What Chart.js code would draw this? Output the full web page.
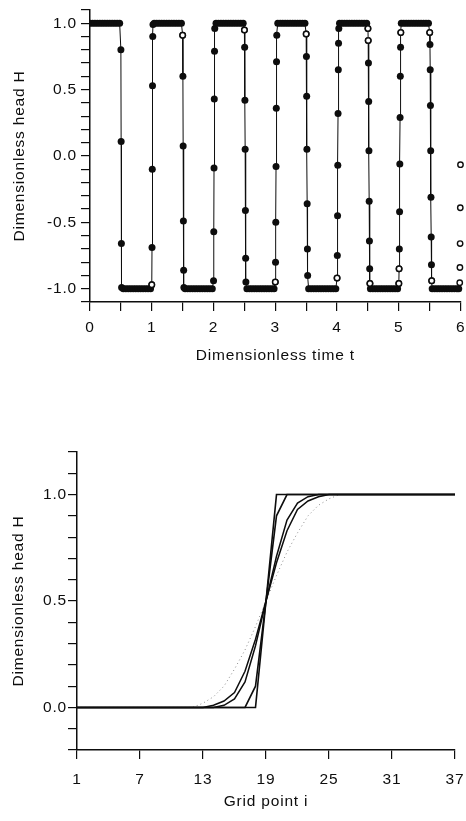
<!DOCTYPE html>
<html>
<head>
<meta charset="utf-8">
<script src="https://cdn.jsdelivr.net/npm/chart.js@4.4.1/dist/chart.umd.min.js"></script>
<style>
  html, body { margin: 0; padding: 0; background: #fff; }
  body { width: 466px; height: 821px; position: relative; overflow: hidden; }
  canvas { position: absolute; left: 0; }
  #wave { top: 0; }
  #front { top: 400px; }
</style>
</head>
<body>
<canvas id="wave" width="466" height="380"></canvas>
<canvas id="front" width="466" height="421"></canvas>
<script>
// ---- top panel: head vs time (filled dots joined by a thin line, open circles apart)
let waveTime = [
  0, 0.04, 0.08, 0.12, 0.16, 0.2, 0.24, 0.28, 0.32, 0.36, 0.4, 0.44, 0.48,
  0.5, 0.504, 0.508, 0.512,
  0.54, 0.58, 0.62, 0.66, 0.7, 0.74, 0.78, 0.82, 0.86, 0.9, 0.94, 0.98,
  1, 1.004, 1.008, 1.012, 1.016, 1.02,
  1.04, 1.08, 1.12, 1.16, 1.2, 1.24, 1.28, 1.32, 1.36, 1.4, 1.44, 1.48,
  1.5, 1.504, 1.508, 1.512, 1.516, 1.52,
  1.54, 1.58, 1.62, 1.66, 1.7, 1.74, 1.78, 1.82, 1.86, 1.9, 1.94, 1.98,
  2, 2.004, 2.008, 2.012, 2.016, 2.02,
  2.04, 2.08, 2.12, 2.16, 2.2, 2.24, 2.28, 2.32, 2.36, 2.4, 2.44, 2.48,
  2.5, 2.504, 2.508, 2.512, 2.516, 2.52, 2.524,
  2.54, 2.58, 2.62, 2.66, 2.7, 2.74, 2.78, 2.82, 2.86, 2.9, 2.94, 2.98,
  3, 3.004, 3.008, 3.012, 3.016, 3.02, 3.024,
  3.04, 3.08, 3.12, 3.16, 3.2, 3.24, 3.28, 3.32, 3.36, 3.4, 3.44, 3.48,
  3.5, 3.504, 3.508, 3.512, 3.516, 3.52, 3.524,
  3.54, 3.58, 3.62, 3.66, 3.7, 3.74, 3.78, 3.82, 3.86, 3.9, 3.94, 3.98,
  4, 4.004, 4.008, 4.012, 4.016, 4.02, 4.024, 4.028,
  4.04, 4.08, 4.12, 4.16, 4.2, 4.24, 4.28, 4.32, 4.36, 4.4, 4.44, 4.48,
  4.5, 4.504, 4.508, 4.512, 4.516, 4.52, 4.524, 4.528, 4.532,
  4.54, 4.58, 4.62, 4.66, 4.7, 4.74, 4.78, 4.82, 4.86, 4.9, 4.94, 4.98,
  5, 5.004, 5.008, 5.012, 5.016, 5.02, 5.024, 5.028, 5.032,
  5.04, 5.08, 5.12, 5.16, 5.2, 5.24, 5.28, 5.32, 5.36, 5.4, 5.44, 5.48,
  5.5, 5.504, 5.508, 5.512, 5.516, 5.52, 5.524, 5.528, 5.532,
  5.54, 5.58, 5.62, 5.66, 5.7, 5.74, 5.78, 5.82, 5.86, 5.9, 5.94, 5.97
];
let waveHead = [
  1, 1, 1, 1, 1, 1, 1, 1, 1, 1, 1, 1, 1,
  0.8, 0.11, -0.66, -0.99,
  -1, -1, -1, -1, -1, -1, -1, -1, -1, -1, -1, -1,
  -0.97, -0.69, -0.1, 0.53, 0.9, 0.99,
  1, 1, 1, 1, 1, 1, 1, 1, 1, 1, 1, 1,
  0.91, 0.6, 0.075, -0.49, -0.86, -0.99,
  -1, -1, -1, -1, -1, -1, -1, -1, -1, -1, -1, -1,
  -0.94, -0.57, -0.09, 0.43, 0.79, 0.96,
  1, 1, 1, 1, 1, 1, 1, 1, 1, 1, 1, 1,
  0.95, 0.82, 0.42, 0.05, -0.41, -0.77, -0.95,
  -1, -1, -1, -1, -1, -1, -1, -1, -1, -1, -1, -1,
  -0.95, -0.8, -0.5, -0.08, 0.36, 0.71, 0.91,
  1, 1, 1, 1, 1, 1, 1, 1, 1, 1, 1, 1,
  0.92, 0.75, 0.45, 0.05, -0.36, -0.7, -0.9,
  -1, -1, -1, -1, -1, -1, -1, -1, -1, -1, -1, -1,
  -0.92, -0.75, -0.45, -0.07, 0.32, 0.65, 0.85, 0.96,
  1, 1, 1, 1, 1, 1, 1, 1, 1, 1, 1, 1,
  0.96, 0.87, 0.7, 0.41, 0.04, -0.34, -0.64, -0.85, -0.96,
  -1, -1, -1, -1, -1, -1, -1, -1, -1, -1, -1, -1,
  -0.96, -0.85, -0.7, -0.42, -0.06, 0.29, 0.6, 0.82, 0.93,
  1, 1, 1, 1, 1, 1, 1, 1, 1, 1, 1, 1,
  0.93, 0.84, 0.65, 0.38, 0.04, -0.31, -0.61, -0.82, -0.94,
  -1, -1, -1, -1, -1, -1, -1, -1, -1, -1, -1, -1
];
let openTime = [1, 1.5, 2.5, 3, 3.5, 4, 4.5, 4.504, 4.532, 5, 5.004, 5.032, 5.5, 5.532,
  5.986, 5.989, 5.992, 5.995, 5.998];
let openHead = [-0.97, 0.91, 0.95, -0.95, 0.92, -0.92, 0.96, 0.87, -0.96, -0.96, -0.85, 0.93, 0.93, -0.94,
  -0.955, -0.84, -0.66, -0.39, -0.065];
let waveTimeLabels = [0, 1, 2, 3, 4, 5, 6];
let waveHeadLabels = [-1, -0.5, 0, 0.5, 1];

// ---- bottom panel: head along the grid, several profiles
let gridPoint = [1, 2, 3, 4, 5, 6, 7, 8, 9, 10, 11, 12, 13, 14, 15, 16, 17, 18, 19,
  20, 21, 22, 23, 24, 25, 26, 27, 28, 29, 30, 31, 32, 33, 34, 35, 36, 37];
let headA = [0, 0, 0, 0, 0, 0, 0, 0, 0, 0, 0, 0, 0, 0, 0, 0, 0, 0, 0.5,
  1, 1, 1, 1, 1, 1, 1, 1, 1, 1, 1, 1, 1, 1, 1, 1, 1, 1];
let headB = [0, 0, 0, 0, 0, 0, 0, 0, 0, 0, 0, 0, 0, 0, 0, 0, 0, 0.1, 0.5,
  0.9, 1, 1, 1, 1, 1, 1, 1, 1, 1, 1, 1, 1, 1, 1, 1, 1, 1];
let headC = [0, 0, 0, 0, 0, 0, 0, 0, 0, 0, 0, 0, 0, 0, 0.01, 0.04, 0.12, 0.29, 0.5,
  0.71, 0.88, 0.96, 0.99, 1, 1, 1, 1, 1, 1, 1, 1, 1, 1, 1, 1, 1, 1];
let headD = [0, 0, 0, 0, 0, 0, 0, 0, 0, 0, 0, 0, 0, 0.01, 0.03, 0.07, 0.17, 0.32, 0.5,
  0.68, 0.83, 0.93, 0.97, 0.99, 1, 1, 1, 1, 1, 1, 1, 1, 1, 1, 1, 1, 1];
let headE = [0, 0, 0, 0, 0, 0, 0, 0, 0, 0, 0, 0, 0.02, 0.05, 0.1, 0.18, 0.27, 0.38, 0.5,
  0.62, 0.73, 0.82, 0.9, 0.95, 0.98, 1, 1, 1, 1, 1, 1, 1, 1, 1, 1, 1, 1];
let gridLabels = [1, 7, 13, 19, 25, 31, 37];
let frontHeadLabels = [0, 0.5, 1];

let ink = "#0d0d0d";
let font = { family: '"Liberation Sans", Arial, Helvetica, sans-serif', size: 15.5 };

// scanned Helvetica runs a bit wide
let spacing = { id: 'spacing', beforeDraw(chart) { chart.ctx.letterSpacing = '0.8px'; } };

function pairs(xs, ys) {
  return xs.map((x, i) => ({ x: x, y: ys[i] }));
}

function labelIf(list, fmt) {
  return function(v) {
    let r = Math.round(v * 100) / 100;
    return list.includes(r) ? fmt(r) : '';
  };
}

function axis(o) {
  return {
    type: 'linear',
    min: o.min,
    max: o.max,
    border: { display: true, color: ink, width: 1.5 },
    grid: { drawOnChartArea: false, drawTicks: true, tickLength: 9, color: ink, lineWidth: 1.2 },
    ticks: {
      stepSize: o.step, autoSkip: false, maxRotation: 0, padding: o.pad,
      color: ink, font: font, callback: labelIf(o.labels, o.fmt)
    },
    title: { display: true, text: o.title, color: ink, font: font, padding: o.titlePad },
    afterFit: o.fit
  };
}

new Chart(document.getElementById('wave').getContext('2d'), {
  type: 'scatter',
  data: {
    datasets: [
      {
        data: pairs(openTime, openHead),
        showLine: false,
        pointRadius: 2.7,
        pointBackgroundColor: '#fff',
        pointBorderColor: ink,
        pointBorderWidth: 1.4,
        clip: false,
        order: 0
      },
      {
        data: pairs(waveTime, waveHead),
        showLine: true,
        borderColor: ink,
        borderWidth: 1,
        pointRadius: 3.5,
        pointBackgroundColor: ink,
        pointBorderWidth: 0,
        clip: { left: 0, top: 6, right: 6, bottom: 6 },
        order: 1
      }
    ]
  },
  options: {
    responsive: false,
    animation: false,
    devicePixelRatio: 1,
    layout: { padding: { top: 10, right: 3, left: 0, bottom: 0 } },
    plugins: { legend: { display: false }, tooltip: { enabled: false } },
    scales: {
      x: axis({
        min: 0, max: 6, step: 0.5, labels: waveTimeLabels, fmt: r => String(r), pad: 7,
        title: 'Dimensionless time t', titlePad: { top: 0, bottom: 15 },
        fit: s => { s.height = 78; s.paddingLeft = 0; s.paddingRight = 0; }
      }),
      y: axis({
        min: -1.1, max: 1.1, step: 0.1, labels: waveHeadLabels, fmt: r => r.toFixed(1), pad: 4,
        title: 'Dimensionless head H', titlePad: { top: 10, bottom: 0 },
        fit: s => { s.width = 90; s.paddingTop = 0; s.paddingBottom = 0; }
      })
    }
  },
  plugins: [spacing]
});

function profile(values, colour, width, dash) {
  return {
    data: pairs(gridPoint, values),
    borderColor: colour,
    borderWidth: width,
    borderDash: dash,
    pointRadius: 0,
    tension: 0
  };
}

new Chart(document.getElementById('front').getContext('2d'), {
  type: 'line',
  data: {
    datasets: [
      profile(headA, ink, 1.6, []),
      profile(headB, ink, 1.6, []),
      profile(headC, ink, 1.5, []),
      profile(headD, ink, 1.5, []),
      profile(headE, '#8a8a8a', 1, [1, 3])
    ]
  },
  options: {
    responsive: false,
    animation: false,
    devicePixelRatio: 1,
    layout: { padding: { top: 52, right: 11, left: 0, bottom: 0 } },
    plugins: { legend: { display: false }, tooltip: { enabled: false } },
    scales: {
      x: axis({
        min: 1, max: 37, step: 6, labels: gridLabels, fmt: r => String(r), pad: 11,
        title: 'Grid point i', titlePad: { top: 0, bottom: 10 },
        fit: s => { s.height = 71; s.paddingLeft = 0; s.paddingRight = 0; }
      }),
      y: axis({
        min: -0.2, max: 1.2, step: 0.1, labels: frontHeadLabels, fmt: r => r.toFixed(1), pad: 1,
        title: 'Dimensionless head H', titlePad: { top: 9, bottom: 0 },
        fit: s => { s.width = 77; s.paddingTop = 0; s.paddingBottom = 0; }
      })
    }
  },
  plugins: [spacing]
});
</script>
</body>
</html>
